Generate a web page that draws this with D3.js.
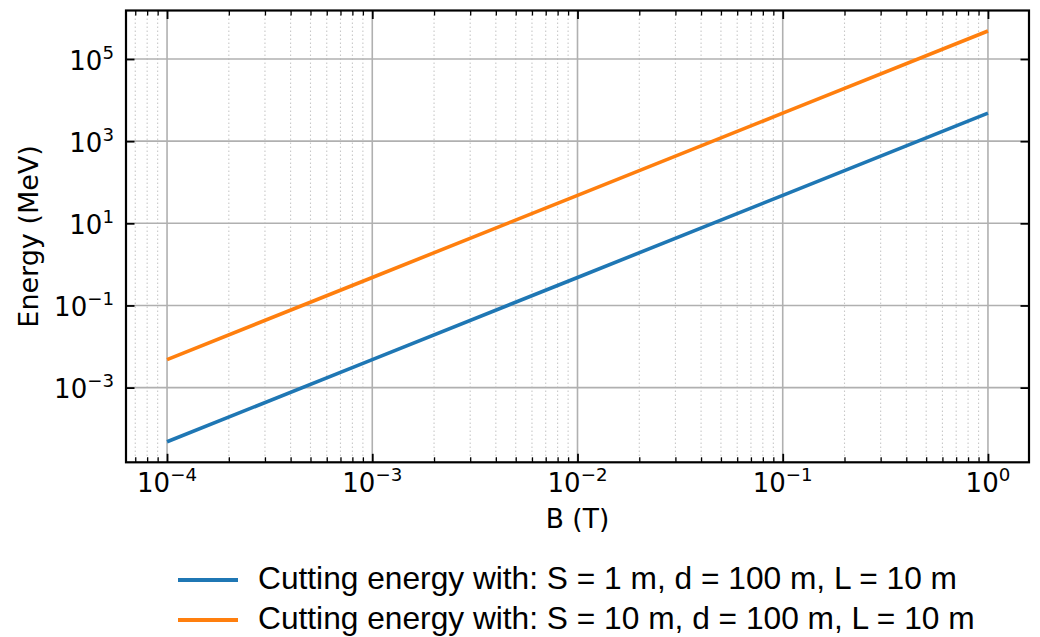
<!DOCTYPE html>
<html>
<head>
<meta charset="utf-8">
<script src="https://cdn.jsdelivr.net/npm/d3@7"></script>
<style>
  html, body { margin: 0; padding: 0; background: #fff; }
  svg { display: block; }
</style>
</head>
<body>
<svg id="chart" width="1040" height="637"></svg>
<script>
// ---- data ----
const fieldB = [1e-4, 1e-3, 1e-2, 1e-1, 1];            // B (T)
const energyS1 = [4.8e-5, 4.8e-3, 4.8e-1, 4.8e1, 4.8e3]; // MeV, S = 1 m
const energyS10 = [4.8e-3, 4.8e-1, 4.8e1, 4.8e3, 4.8e5]; // MeV, S = 10 m
const seriesNames = [
  "Cutting energy with: S = 1 m, d = 100 m, L = 10 m",
  "Cutting energy with: S = 10 m, d = 100 m, L = 10 m"
];
const seriesColors = ["#1f77b4", "#ff7f0e"];
const xTickExps = [-4, -3, -2, -1, 0];
const yTickExps = [-3, -1, 1, 3, 5];
const xLabel = "B (T)";
const yLabel = "Energy (MeV)";

// ---- layout ----
const svg = d3.select("#chart");
const L = 126, R = 1029, T = 10.5, B = 462.3;

function logDomain(vals) {
  const lo = Math.log10(d3.min(vals)), hi = Math.log10(d3.max(vals));
  const m = (hi - lo) * 0.05;
  return [Math.pow(10, lo - m), Math.pow(10, hi + m)];
}
const x = d3.scaleLog().domain(logDomain(fieldB)).range([L, R]);
const y = d3.scaleLog().domain(logDomain(energyS1.concat(energyS10))).range([B, T]);

// minor x ticks
const xd = x.domain();
const minorX = [];
for (let e = Math.floor(Math.log10(xd[0])); e <= Math.ceil(Math.log10(xd[1])); e++) {
  for (let k = 2; k <= 9; k++) {
    const v = k * Math.pow(10, e);
    if (v >= xd[0] && v <= xd[1]) minorX.push(v);
  }
}
const majorX = xTickExps.map(e => Math.pow(10, e));
const majorY = yTickExps.map(e => Math.pow(10, e));

const grid = svg.append("g");
grid.selectAll("line.mx").data(minorX).enter().append("line")
  .attr("x1", d => x(d)).attr("x2", d => x(d)).attr("y1", T).attr("y2", B)
  .attr("stroke", "#c8c8c8").attr("stroke-width", 1.1).attr("stroke-dasharray", "1.4,2.6");
grid.selectAll("line.gx").data(majorX).enter().append("line")
  .attr("x1", d => x(d)).attr("x2", d => x(d)).attr("y1", T).attr("y2", B)
  .attr("stroke", "#b0b0b0").attr("stroke-width", 1.6);
grid.selectAll("line.gy").data(majorY).enter().append("line")
  .attr("x1", L).attr("x2", R).attr("y1", d => y(d)).attr("y2", d => y(d))
  .attr("stroke", "#b0b0b0").attr("stroke-width", 1.6);

// series
const series = [energyS1, energyS10];
const line = d3.line().x(d => x(d[0])).y(d => y(d[1]));
series.forEach((s, i) => {
  svg.append("path")
    .datum(fieldB.map((b, j) => [b, s[j]]))
    .attr("d", line)
    .attr("fill", "none")
    .attr("stroke", seriesColors[i])
    .attr("stroke-width", 3.6);
});

// axes with inward ticks on all sides
const fmtNone = () => "";
const ax = svg.append("g").attr("stroke-linecap", "butt");
function styleAxis(g) { g.select(".domain").remove(); g.selectAll("text").remove(); }
// bottom
ax.append("g").attr("transform", `translate(0,${B})`)
  .call(d3.axisBottom(x).tickValues(majorX).tickSizeInner(-8.5).tickSizeOuter(0).tickFormat(fmtNone))
  .call(styleAxis).selectAll("line").attr("stroke", "#000").attr("stroke-width", 1.8);
ax.append("g").attr("transform", `translate(0,${B})`)
  .call(d3.axisBottom(x).tickValues(minorX).tickSizeInner(-5).tickSizeOuter(0).tickFormat(fmtNone))
  .call(styleAxis).selectAll("line").attr("stroke", "#000").attr("stroke-width", 1.3);
// top
ax.append("g").attr("transform", `translate(0,${T})`)
  .call(d3.axisTop(x).tickValues(majorX).tickSizeInner(-8.5).tickSizeOuter(0).tickFormat(fmtNone))
  .call(styleAxis).selectAll("line").attr("stroke", "#000").attr("stroke-width", 1.8);
ax.append("g").attr("transform", `translate(0,${T})`)
  .call(d3.axisTop(x).tickValues(minorX).tickSizeInner(-5).tickSizeOuter(0).tickFormat(fmtNone))
  .call(styleAxis).selectAll("line").attr("stroke", "#000").attr("stroke-width", 1.3);
// left / right
ax.append("g").attr("transform", `translate(${L},0)`)
  .call(d3.axisLeft(y).tickValues(majorY).tickSizeInner(-8.5).tickSizeOuter(0).tickFormat(fmtNone))
  .call(styleAxis).selectAll("line").attr("stroke", "#000").attr("stroke-width", 1.8);
ax.append("g").attr("transform", `translate(${R},0)`)
  .call(d3.axisRight(y).tickValues(majorY).tickSizeInner(-8.5).tickSizeOuter(0).tickFormat(fmtNone))
  .call(styleAxis).selectAll("line").attr("stroke", "#000").attr("stroke-width", 1.8);

// spines
svg.append("rect").attr("x", L).attr("y", T).attr("width", R - L).attr("height", B - T)
  .attr("fill", "none").attr("stroke", "#000").attr("stroke-width", 2.2);

// tick labels
const tickFont = "'DejaVu Sans', sans-serif";
const tickSize = 26;
function powLabel(sel, e) {
  sel.append("tspan").text("10");
  sel.append("tspan").attr("dy", -11).attr("font-size", tickSize * 0.7)
    .text(e < 0 ? "\u2212" + Math.abs(e) : String(e));
}
xTickExps.forEach(e => {
  const t = svg.append("text").attr("x", x(Math.pow(10, e))).attr("y", B + 30)
    .attr("text-anchor", "middle").attr("font-family", tickFont).attr("font-size", tickSize).attr("fill", "#000");
  powLabel(t, e);
});
yTickExps.forEach(e => {
  const t = svg.append("text").attr("x", L - 12).attr("y", y(Math.pow(10, e)) + 10.5)
    .attr("text-anchor", "end").attr("font-family", tickFont).attr("font-size", tickSize).attr("fill", "#000");
  powLabel(t, e);
});

// axis labels
svg.append("text").attr("x", (L + R) / 2).attr("y", 528)
  .attr("text-anchor", "middle").attr("font-family", tickFont).attr("font-size", 26.5).text(xLabel);
svg.append("text").attr("transform", `translate(37.5,${(T + B) / 2}) rotate(-90)`)
  .attr("text-anchor", "middle").attr("font-family", tickFont).attr("font-size", 27).text(yLabel);

// legend
const legY = [580, 620];
seriesNames.forEach((n, i) => {
  svg.append("line").attr("x1", 178).attr("x2", 238).attr("y1", legY[i]).attr("y2", legY[i])
    .attr("stroke", seriesColors[i]).attr("stroke-width", 4);
  svg.append("text").attr("x", 258).attr("y", legY[i] + 8.5)
    .attr("font-family", "'Liberation Sans', Arial, sans-serif").attr("font-size", 31.7)
    .attr("fill", "#000").text(n);
});
</script>
</body>
</html>
